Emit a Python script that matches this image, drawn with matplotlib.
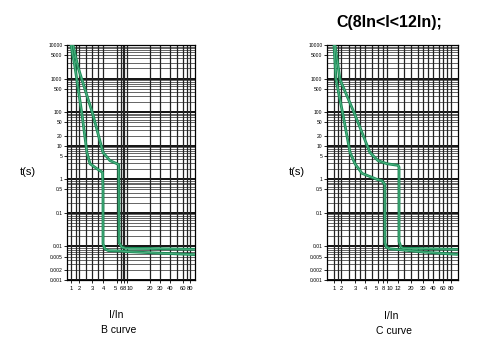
import numpy as np
import matplotlib
matplotlib.use("Agg")
import matplotlib.pyplot as plt

plt.rcParams['font.family'] = ['Liberation Sans', 'DejaVu Sans']

# tick labels of the two time-current charts
Y_TICKS = [10000, 5000, 1000, 500, 100, 50, 20, 10, 5, 1, 0.5, 0.1, 0.01, 0.005, 0.002, 0.001]
Y_LABELS = ['10000', '5000', '1000', '500', '100', '50', '20', '10', '5', '1', '0.5', '0.1',
            '0.01', '0.005', '0.002', '0.001']
B_XTICKS = [1, 2, 3, 4, 5, 6, 8, 10, 20, 30, 40, 60, 80]
C_XTICKS = [1, 2, 3, 4, 5, 8, 10, 12, 20, 30, 40, 60, 80]

# B curve (I/In, t in s)
B_MIN_X = [1.0, 1.41, 2.2, 2.56, 2.82, 3.3, 3.69, 3.95, 4.0, 4.0, 4.12, 4.35, 6, 10, 30, 98]
B_MIN_Y = [10000, 2200, 83, 6.3, 2.9, 2.2, 1.8, 1.6, 0.5, 0.012, 0.0085, 0.0075, 0.0073, 0.0070, 0.0063, 0.0057]
B_MAX_X = [1.19, 1.83, 3.08, 4.0, 4.47, 5.0, 5.4, 5.45, 5.5, 6.5, 9, 20, 98]
B_MAX_Y = [10000, 2200, 83, 6.3, 3.6, 2.9, 2.7, 0.5, 0.013, 0.0095, 0.0088, 0.0087, 0.0082]

# C curve
C_MIN_X = [1.0, 1.22, 2.12, 2.6, 3.0, 3.67, 4.9, 7.3, 8.9, 8.9, 9.6, 10.5, 15, 30, 100]
C_MIN_Y = [10000, 940, 83, 6.3, 2.9, 1.5, 1.0, 0.9, 0.7, 0.013, 0.0095, 0.0085, 0.0078, 0.0068, 0.0058]
C_MAX_X = [1.1, 1.81, 3.0, 4.35, 5.0, 10, 12, 12.5, 12.5, 13.5, 14.6, 25, 100]
C_MAX_Y = [10000, 940, 83, 6.3, 3.6, 2.9, 2.6, 2.3, 0.014, 0.0095, 0.0088, 0.0087, 0.0082]

# the printed x axis is not a true log axis: anchor value -> pixel
B_SCALE_V = [0.01, 0.7, 1, 2, 3, 4, 5, 6, 8, 10, 20, 30, 40, 60, 80, 98, 10000]
B_SCALE_P = [16, 67, 71, 79, 92, 103, 117, 121, 124, 127, 150, 160, 170, 183, 190, 195, 300]
C_SCALE_V = [0.01, 0.5, 1, 2, 3, 4, 5, 8, 10, 12, 20, 30, 40, 60, 80, 103, 10000]
C_SCALE_P = [280, 327, 334, 341, 355, 365, 378, 383, 387, 398, 411, 423, 433, 443, 451, 458, 560]

GREEN = '#1b8f59'


def make_scale(vals, pix):
    lv = np.log10(vals)
    pv = np.array(pix, dtype=float)

    def fwd(x):
        x = np.clip(np.asarray(x, dtype=float), 1e-6, None)
        return np.interp(np.log10(x), lv, pv)

    def inv(p):
        return 10 ** np.interp(np.asarray(p, dtype=float), pv, lv)

    return fwd, inv


def draw_panel(ax, scale_v, scale_p, xticks, extra_x, curves, squeeze=()):
    ax.set_xscale('function', functions=make_scale(scale_v, scale_p))
    ax.set_yscale('log')
    ax.set_xlim(scale_v[1], scale_v[-2])
    ax.set_ylim(0.001, 10000)

    # horizontal grid: decades strong, 2..9 lighter
    for d in range(-3, 4):
        for m in range(2, 10):
            ax.axhline(m * 10.0 ** d, color='#3a3a3a', lw=0.55, zorder=1)
    for d in range(-3, 5):
        ax.axhline(10.0 ** d, color='black', lw=1.3, zorder=1)
    for xv in list(xticks) + list(extra_x):
        ax.axvline(xv, color='#222222', lw=0.9, zorder=1)

    for xs, ys in curves:
        ax.plot(xs, ys, color=GREEN, lw=2.0, zorder=3, solid_capstyle='round')
        ax.plot(xs, ys, color='#74c49c', lw=0.5, zorder=4, alpha=0.8)

    ax.minorticks_off()
    ax.set_yticks(Y_TICKS)
    ax.set_yticklabels(Y_LABELS)
    ax.set_xticks(xticks)
    ax.set_xticklabels([str(v) for v in xticks])
    ax.tick_params(axis='y', labelsize=3.6, length=2.5, width=0.6, pad=0.8)
    ax.tick_params(axis='x', labelsize=4.2, length=2.5, width=0.6, pad=1.5)
    # crowded labels (5 6 8 10) pushed apart a little
    for lab in ax.get_xticklabels():
        t = lab.get_text()
        if t in squeeze:
            lab.set_horizontalalignment(squeeze[t])
    for sp in ax.spines.values():
        sp.set_linewidth(0.9)
        sp.set_color('black')


fig = plt.figure(figsize=(5, 3.55), dpi=100)
W, H = 500.0, 355.0

ax1 = fig.add_axes([67 / W, 1 - 280 / H, 128 / W, 235 / H])
draw_panel(ax1, B_SCALE_V, B_SCALE_P, B_XTICKS, [1.5, 2.5, 3.5, 7, 50, 70],
           [(B_MIN_X, B_MIN_Y), (B_MAX_X, B_MAX_Y)],
           squeeze={'5': 'right', '8': 'center', '10': 'left'})

ax2 = fig.add_axes([327 / W, 1 - 280 / H, 131 / W, 235 / H])
draw_panel(ax2, C_SCALE_V, C_SCALE_P, C_XTICKS, [1.5, 2.5, 3.5, 4.5, 15, 25, 35, 50, 70],
           [(C_MIN_X, C_MIN_Y), (C_MAX_X, C_MAX_Y)],
           squeeze={'5': 'right', '10': 'left'})

fig.text(28 / W, 1 - 172 / H, 't(s)', fontsize=8, ha='center', va='center')
fig.text(297 / W, 1 - 172 / H, 't(s)', fontsize=8, ha='center', va='center')
fig.text(116 / W, 1 - 315 / H, 'I/In', fontsize=7.5, ha='center', va='center')
fig.text(119 / W, 1 - 330 / H, 'B curve', fontsize=7.5, ha='center', va='center')
fig.text(391 / W, 1 - 316 / H, 'I/In', fontsize=7.5, ha='center', va='center')
fig.text(394 / W, 1 - 331 / H, 'C curve', fontsize=7.5, ha='center', va='center')
fig.text(389 / W, 1 - 23 / H, 'C(8In<I<12In);', fontsize=11.5, fontweight='bold',
         ha='center', va='center')

fig.savefig('out.png', dpi=100, facecolor='white')
